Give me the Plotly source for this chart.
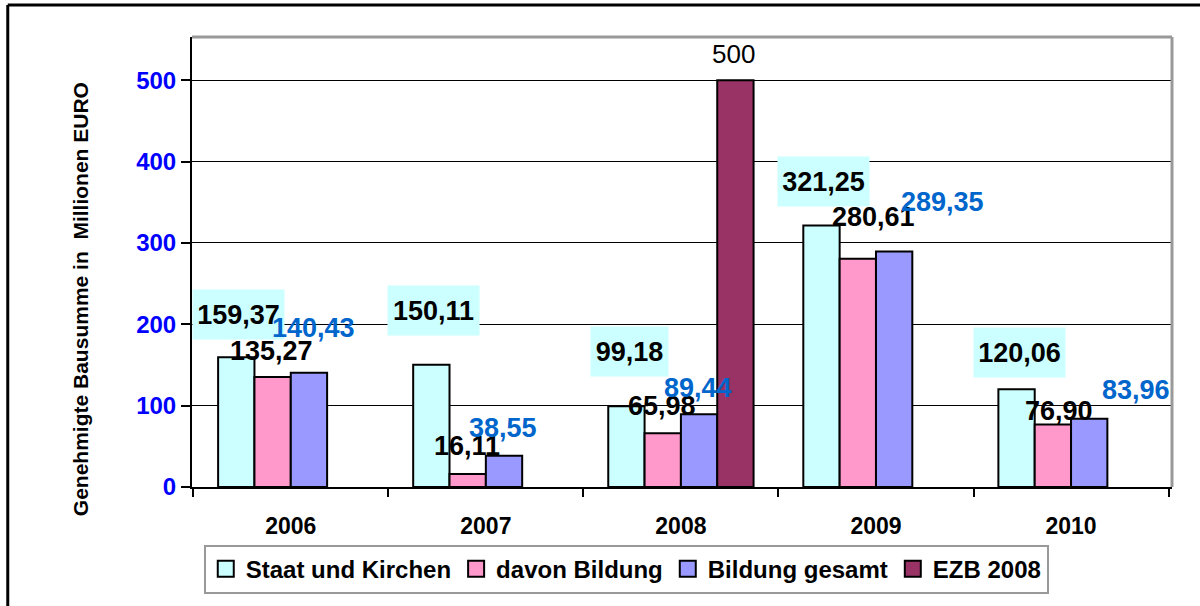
import plotly.graph_objects as go

# ---------------- data ----------------
years = ["2006", "2007", "2008", "2009", "2010"]
staat_kirchen = [159.37, 150.11, 99.18, 321.25, 120.06]
davon_bildung = [135.27, 16.11, 65.98, 280.61, 76.90]
bildung_gesamt = [140.43, 38.55, 89.44, 289.35, 83.96]
ezb_years = ["2008"]
ezb_values = [500]

series_names = ["Staat und Kirchen", "davon Bildung", "Bildung gesamt", "EZB 2008"]
series_colors = ["#CCFFFF", "#FF99CC", "#9999FF", "#993366"]

# label positions (offset from category centre, y in data units) - layout only
lab_staat_pos = [(-0.268, 212), (-0.270, 217), (-0.266, 167), (-0.269, 376), (-0.266, 165)]
lab_davon_pos = [(-0.099, 167), (-0.099, 50), (-0.096, 100), (-0.011, 332), (-0.062, 94)]
lab_gesamt_pos = [(0.118, 196), (0.089, 73), (0.088, 122), (0.340, 350), (0.333, 119)]
lab_ezb_pos = [(0.269, 532)]

FONT = "Liberation Sans, Arial, sans-serif"


def fmt(v):
    return f"{v:.2f}".replace(".", ",")


fig = go.Figure()

bar_line = dict(color="black", width=2)
fig.add_trace(go.Bar(x=years, y=staat_kirchen, name=series_names[0],
                     marker=dict(color=series_colors[0], line=bar_line), showlegend=False))
fig.add_trace(go.Bar(x=years, y=davon_bildung, name=series_names[1],
                     marker=dict(color=series_colors[1], line=bar_line), showlegend=False))
fig.add_trace(go.Bar(x=years, y=bildung_gesamt, name=series_names[2],
                     marker=dict(color=series_colors[2], line=bar_line), showlegend=False))
fig.add_trace(go.Bar(x=ezb_years, y=ezb_values, name=series_names[3],
                     marker=dict(color=series_colors[3], line=bar_line), showlegend=False))

# legend entries (square symbols like the original)
for name, col in zip(series_names, series_colors):
    fig.add_trace(go.Scatter(x=[None], y=[None], mode="markers", name=name,
                             marker=dict(symbol="square", size=16, color=col,
                                         line=dict(color="black", width=2))))

annotations = []
for i, v in enumerate(staat_kirchen):
    dx, y = lab_staat_pos[i]
    txt = fmt(v)
    annotations.append(dict(x=i + dx, y=y, xref="x", yref="y", text=txt, showarrow=False,
                            font=dict(family=FONT, size=27, color="black", weight="bold"),
                            bgcolor="#CCFFFF", borderpad=0,
                            width=14 * len(txt) + 7, height=49))
for i, v in enumerate(davon_bildung):
    dx, y = lab_davon_pos[i]
    annotations.append(dict(x=i + dx, y=y, xref="x", yref="y", text=fmt(v), showarrow=False,
                            font=dict(family=FONT, size=27, color="black", weight="bold")))
for i, v in enumerate(bildung_gesamt):
    dx, y = lab_gesamt_pos[i]
    annotations.append(dict(x=i + dx, y=y, xref="x", yref="y", text=fmt(v), showarrow=False,
                            font=dict(family=FONT, size=27, color="#0066CC", weight="bold")))
for k, v in enumerate(ezb_values):
    dx, y = lab_ezb_pos[k]
    ci = years.index(ezb_years[k])
    annotations.append(dict(x=ci + dx, y=y, xref="x", yref="y", text=str(v), showarrow=False,
                            font=dict(family=FONT, size=26, color="black")))

# y-axis title (placed like in the original)
annotations.append(dict(x=-0.113, y=0.418, xref="paper", yref="paper",
                        xanchor="center", yanchor="middle",
                        text="Genehmigte Bausumme in \u00a0Millionen EURO",
                        textangle=-90, showarrow=False,
                        font=dict(family=FONT, size=21, color="black", weight="bold")))

shapes = [
    # top and right plot border (grey)
    dict(type="line", xref="paper", yref="paper", x0=0, x1=1, y0=1, y1=1,
         line=dict(color="#999999", width=3)),
    dict(type="line", xref="paper", yref="paper", x0=1, x1=1, y0=0, y1=1,
         line=dict(color="#999999", width=3)),
    # outer chart frame (top and left visible)
    dict(type="line", xref="paper", yref="paper", x0=-0.188, x1=1.1, y0=1.071, y1=1.071,
         line=dict(color="black", width=3)),
    dict(type="line", xref="paper", yref="paper", x0=-0.188, x1=-0.188, y0=1.071, y1=-0.4,
         line=dict(color="black", width=3)),
]

fig.update_layout(
    width=1200, height=606,
    margin=dict(l=192, r=28, t=37, b=119, autoexpand=False),
    paper_bgcolor="white", plot_bgcolor="white",
    barmode="group", bargap=0.255, bargroupgap=0,
    font=dict(family=FONT, color="black"),
    showlegend=True,
    legend=dict(orientation="h", x=0.012, xanchor="left", y=-0.128, yanchor="top",
                bordercolor="#999999", borderwidth=2, bgcolor="white",
                font=dict(family=FONT, size=24, color="black", weight="bold"),
                itemwidth=30, tracegroupgap=0),
    xaxis=dict(showgrid=False, showline=True, linecolor="black", linewidth=2,
               automargin=False,
               ticks="outside", tickson="boundaries", ticklen=8, tickwidth=2, tickcolor="black",
               tickfont=dict(family=FONT, size=23, color="black", weight="bold"),
               ticklabelstandoff=17),
    yaxis=dict(range=[0, 553], showgrid=True, gridcolor="black", gridwidth=1,
               automargin=False,
               tickvals=[0, 100, 200, 300, 400, 500],
               showline=True, linecolor="black", linewidth=2, zeroline=False,
               ticks="outside", ticklen=9, tickwidth=2, tickcolor="black",
               tickfont=dict(family=FONT, size=24, color="#0000FF", weight="bold"),
               ticklabelstandoff=0),
    annotations=annotations,
    shapes=shapes,
)

fig.write_html("out.html", config={"displayModeBar": False},
               post_script="document.body.style.margin='0';")
